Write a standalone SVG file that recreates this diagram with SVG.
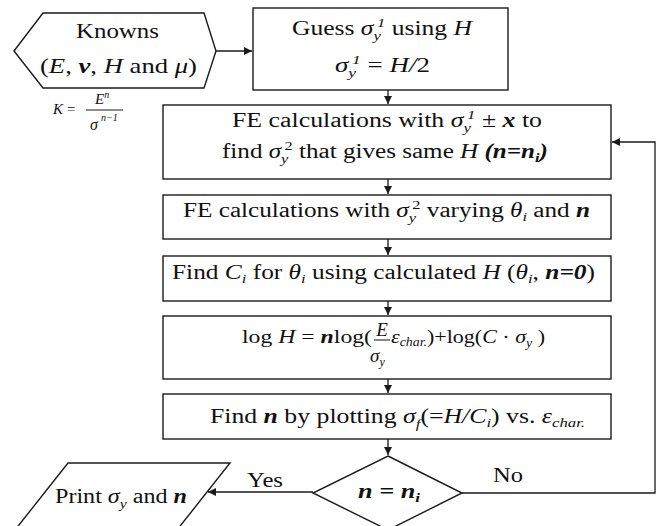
<svg xmlns="http://www.w3.org/2000/svg" width="659" height="526" viewBox="0 0 659 526">
<style>
.s{fill:#fff;stroke:#1a1a1a;stroke-width:1.4}
.c{fill:none;stroke:#1a1a1a;stroke-width:1.3}
.i{font-style:italic}
.b{font-style:italic;font-weight:bold}
.sm{font-size:13px}
</style>
<defs>
<marker id="ar" viewBox="0 0 10 10" refX="10" refY="5" markerWidth="9" markerHeight="8" markerUnits="userSpaceOnUse" orient="auto">
<path d="M0,0 L10,5 L0,10 z" fill="#1a1a1a"/>
</marker>
</defs>
<rect width="659" height="526" fill="#fff"/>

<g id="connectors">
<line class="c" x1="216" y1="51" x2="252" y2="51" marker-end="url(#ar)"/>
<line class="c" x1="388" y1="90" x2="388" y2="104" marker-end="url(#ar)"/>
<line class="c" x1="388" y1="179" x2="388" y2="194" marker-end="url(#ar)"/>
<line class="c" x1="388" y1="239" x2="388" y2="255" marker-end="url(#ar)"/>
<line class="c" x1="388" y1="301" x2="388" y2="315" marker-end="url(#ar)"/>
<line class="c" x1="388" y1="379" x2="388" y2="393" marker-end="url(#ar)"/>
<line class="c" x1="388" y1="439" x2="388" y2="455" marker-end="url(#ar)"/>
<line class="c" x1="313" y1="492" x2="208" y2="492" marker-end="url(#ar)"/>
<polyline class="c" points="462,493 655,493 655,142 612,142" marker-end="url(#ar)"/>
<text style="font-family:'Liberation Serif',serif;font-size:20px;fill:#111" x="247" y="487" textLength="36" lengthAdjust="spacingAndGlyphs">Yes</text>
<text style="font-family:'Liberation Serif',serif;font-size:20px;fill:#111" x="493" y="482" textLength="30" lengthAdjust="spacingAndGlyphs">No</text>
</g>

<g id="knowns">
<polygon class="s" points="14,51 43,13 204,13 216,51 204,88 43,88"/>
<text style="font-family:'Liberation Serif',serif;font-size:21px;fill:#111" x="76" y="38" textLength="83" lengthAdjust="spacingAndGlyphs">Knowns</text>
<text style="font-family:'Liberation Serif',serif;font-size:21px;fill:#111" x="40" y="73" textLength="157" lengthAdjust="spacingAndGlyphs">(<tspan class="i">E</tspan>, <tspan class="b">ν</tspan>, <tspan class="i">H</tspan> and <tspan class="i">μ</tspan>)</text>
</g>

<g id="k-formula">
<text style="font-family:'Liberation Serif',serif;font-size:15px;fill:#111" x="53" y="114" class="i">K</text>
<text style="font-family:'Liberation Serif',serif;font-size:15px;fill:#111" x="67" y="114">=</text>
<line x1="86" y1="110" x2="123" y2="110" stroke="#1a1a1a" stroke-width="1"/>
<text style="font-family:'Liberation Serif',serif;font-size:15px;fill:#111" x="95" y="104" class="i">E<tspan font-size="10" dy="-6">n</tspan></text>
<text style="font-family:'Liberation Serif',serif;font-size:16px;fill:#111" x="90" y="130" class="i">σ<tspan font-size="10" dy="-9" dx="3">n−1</tspan></text>
</g>

<g id="guess">
<rect class="s" x="253" y="8" width="255" height="82"/>
<text style="font-family:'Liberation Serif',serif;font-size:20px;fill:#111" x="292" y="35" textLength="180" lengthAdjust="spacingAndGlyphs">Guess <tspan class="i">σ</tspan><tspan class="i sm" dy="5">y</tspan><tspan class="i sm" dx="-3" dy="-13">1</tspan><tspan dy="8"> using </tspan><tspan class="i">H</tspan></text>
<text style="font-family:'Liberation Serif',serif;font-size:20px;fill:#111" x="335" y="72" textLength="95" lengthAdjust="spacingAndGlyphs"><tspan class="i">σ</tspan><tspan class="i sm" dy="5">y</tspan><tspan class="i sm" dx="-3" dy="-13">1</tspan><tspan dy="8"> = </tspan><tspan class="i">H/</tspan>2</text>
</g>

<g id="fe-calc-1">
<rect class="s" x="163" y="105" width="448" height="74"/>
<text style="font-family:'Liberation Serif',serif;font-size:20px;fill:#111" x="232" y="127" textLength="310" lengthAdjust="spacingAndGlyphs">FE calculations with <tspan class="i">σ</tspan><tspan class="i sm" dy="5">y</tspan><tspan class="i sm" dx="-3" dy="-13">1</tspan><tspan dy="8"> ± </tspan><tspan class="b">x</tspan>  to</text>
<text style="font-family:'Liberation Serif',serif;font-size:20px;fill:#111" x="222" y="158" textLength="326" lengthAdjust="spacingAndGlyphs">find <tspan class="i">σ</tspan><tspan class="i sm" dy="5">y</tspan><tspan class="sm" dx="-3" dy="-13">2</tspan><tspan dy="8"> that gives same </tspan><tspan class="i">H</tspan> <tspan class="b">(n=n</tspan><tspan class="b sm" dy="4">i</tspan><tspan class="b" dy="-4">)</tspan></text>
</g>

<g id="fe-calc-2">
<rect class="s" x="163" y="195" width="448" height="44"/>
<text style="font-family:'Liberation Serif',serif;font-size:20px;fill:#111" x="183" y="217" textLength="407" lengthAdjust="spacingAndGlyphs">FE calculations with <tspan class="i">σ</tspan><tspan class="i sm" dy="5">y</tspan><tspan class="sm" dx="-3" dy="-13">2</tspan><tspan dy="8"> varying </tspan><tspan class="i">θ</tspan><tspan class="i sm" dy="4">i</tspan><tspan dy="-4"> and </tspan><tspan class="b">n</tspan></text>
</g>

<g id="find-ci">
<rect class="s" x="163" y="256" width="448" height="45"/>
<text style="font-family:'Liberation Serif',serif;font-size:20px;fill:#111" x="172" y="279" textLength="423" lengthAdjust="spacingAndGlyphs">Find <tspan class="i">C</tspan><tspan class="i sm" dy="4">i</tspan><tspan dy="-4"> for </tspan><tspan class="i">θ</tspan><tspan class="i sm" dy="4">i</tspan><tspan dy="-4">  using calculated </tspan><tspan class="i">H</tspan> (<tspan class="i">θ</tspan><tspan class="i sm" dy="4">i</tspan><tspan dy="-4">, </tspan><tspan class="b">n=0</tspan>)</text>
</g>

<g id="log-eq">
<rect class="s" x="163" y="316" width="448" height="63"/>
<text style="font-family:'Liberation Serif',serif;font-size:19px;fill:#111" x="242" y="343" textLength="130" lengthAdjust="spacingAndGlyphs">log <tspan class="i">H</tspan> = <tspan class="b">n</tspan>log(</text>
<text style="font-family:'Liberation Serif',serif;font-size:19px;fill:#111" x="382" y="336" class="i" text-anchor="middle">E</text>
<line x1="374" y1="340" x2="390" y2="340" stroke="#111" stroke-width="1"/>
<text style="font-family:'Liberation Serif',serif;font-size:19px;fill:#111" x="370" y="362" class="i">σ<tspan font-size="12" dy="4">y</tspan></text>
<text style="font-family:'Liberation Serif',serif;font-size:19px;fill:#111" x="391" y="343" textLength="154" lengthAdjust="spacingAndGlyphs"><tspan class="i">ε</tspan><tspan class="i" font-size="12" dy="3">char.</tspan><tspan dy="-3">)+log(</tspan><tspan class="i">C</tspan> · <tspan class="i">σ</tspan><tspan class="i" font-size="12" dy="4">y</tspan><tspan dy="-4"> )</tspan></text>
</g>

<g id="find-n">
<rect class="s" x="163" y="394" width="448" height="45"/>
<text style="font-family:'Liberation Serif',serif;font-size:20px;fill:#111" x="210" y="423" textLength="375" lengthAdjust="spacingAndGlyphs">Find <tspan class="b">n</tspan> by plotting <tspan class="i">σ</tspan><tspan class="i sm" dy="5">f</tspan><tspan dy="-5">(=</tspan><tspan class="i">H/C</tspan><tspan class="i sm" dy="4">i</tspan><tspan dy="-4">) vs. </tspan><tspan class="i">ε</tspan><tspan class="i sm" dy="4">char.</tspan></text>
</g>

<g id="decision">
<polygon class="s" points="388,456 462,493 388,530 313,493"/>
<text style="font-family:'Liberation Serif',serif;font-size:20px;fill:#111" x="358" y="498" class="b" textLength="62" lengthAdjust="spacingAndGlyphs">n = n<tspan class="sm" dy="4">i</tspan></text>
</g>

<g id="print">
<polygon class="s" points="68,463 230,463 177,530 15,530"/>
<text style="font-family:'Liberation Serif',serif;font-size:20px;fill:#111" x="55" y="503" textLength="132" lengthAdjust="spacingAndGlyphs">Print <tspan class="i">σ</tspan><tspan class="i sm" dy="5">y</tspan><tspan dy="-5"> and </tspan><tspan class="b">n</tspan></text>
</g>
</svg>
